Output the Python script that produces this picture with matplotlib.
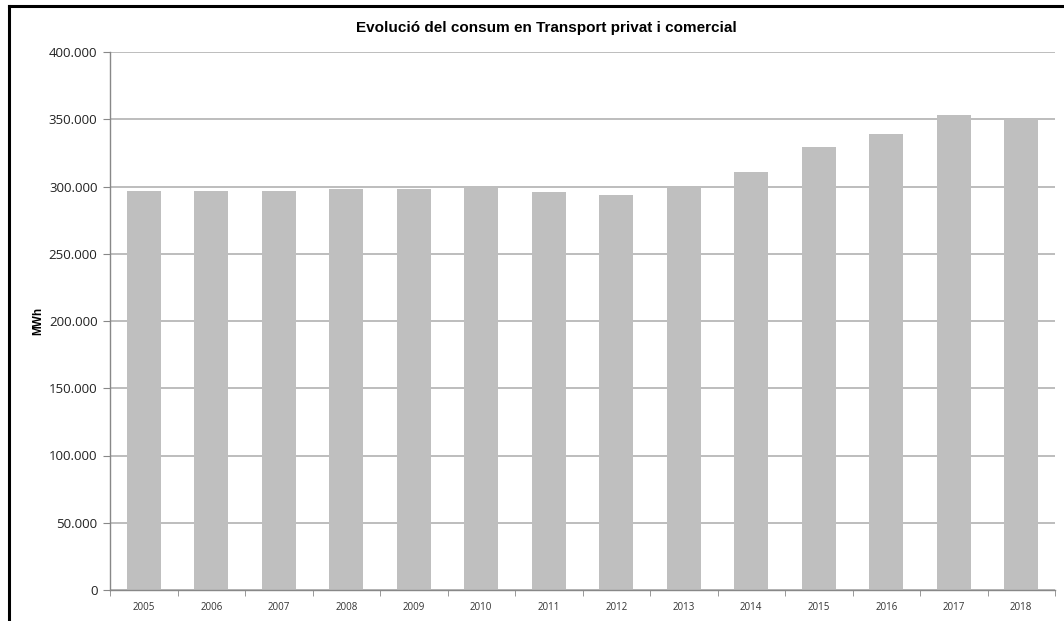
import matplotlib.pyplot as plt
import numpy as np
from matplotlib.lines import Line2D
from matplotlib.ticker import FuncFormatter, FixedLocator

# Data
years = ['2005', '2006', '2007', '2008', '2009', '2010', '2011',
         '2012', '2013', '2014', '2015', '2016', '2017', '2018']
consum = [297000, 297000, 297000, 298000, 298000, 299000, 296000,
          294000, 299000, 311000, 329000, 339000, 353000, 350000]

fig = plt.figure(figsize=(10.64, 6.21), dpi=100)
ax = fig.add_axes([110 / 1064, 31 / 621, 945 / 1064, 538 / 621])

x = np.arange(len(years))
ax.bar(x, consum, width=0.5, color='#bfbfbf', zorder=2)

# Axes limits and grid
ax.set_xlim(-0.5, len(years) - 0.5)
ax.set_ylim(0, 400000)
ax.set_yticks(np.arange(0, 400001, 50000))
ax.yaxis.set_major_formatter(FuncFormatter(lambda v, p: f"{int(v):,}".replace(",", ".")))
ax.grid(axis='y', color='#ababab', linewidth=1.1, zorder=1)

ax.set_xticks(x)
ax.set_xticklabels(years, fontfamily='Open Sans', fontsize=7, color='#333333')
ax.xaxis.set_minor_locator(FixedLocator(np.arange(-0.5, len(years), 1.0)))
ax.tick_params(axis='x', which='major', length=0, pad=9)
ax.tick_params(axis='x', which='minor', length=4, color='#888888', direction='out')
ax.tick_params(axis='y', length=5, color='#888888', pad=4, labelsize=9.5, labelcolor='#222222')
for lbl in ax.get_yticklabels():
    lbl.set_fontfamily('Open Sans')

for side in ['top', 'right']:
    ax.spines[side].set_visible(False)
for side in ['left', 'bottom']:
    ax.spines[side].set_color('#888888')
    ax.spines[side].set_linewidth(1)

ax.set_ylabel('MWh', fontfamily='Liberation Sans', fontweight='bold', fontsize=8.5)
ax.yaxis.set_label_coords(-66 / 945, 0.5)

fig.text(546 / 1064, 1 - 28 / 621, 'Evolució del consum en Transport privat i comercial',
         ha='center', va='center', fontfamily='Liberation Sans', fontweight='bold', fontsize=11)

# Frame lines (top and left)
fig.add_artist(Line2D([8.5 / 1064, 1], [1 - 5.5 / 621, 1 - 5.5 / 621], color='black', linewidth=2.2))
fig.add_artist(Line2D([8.5 / 1064, 8.5 / 1064], [0, 1 - 5.5 / 621], color='black', linewidth=2.2))

fig.savefig('out.png', dpi=100)
